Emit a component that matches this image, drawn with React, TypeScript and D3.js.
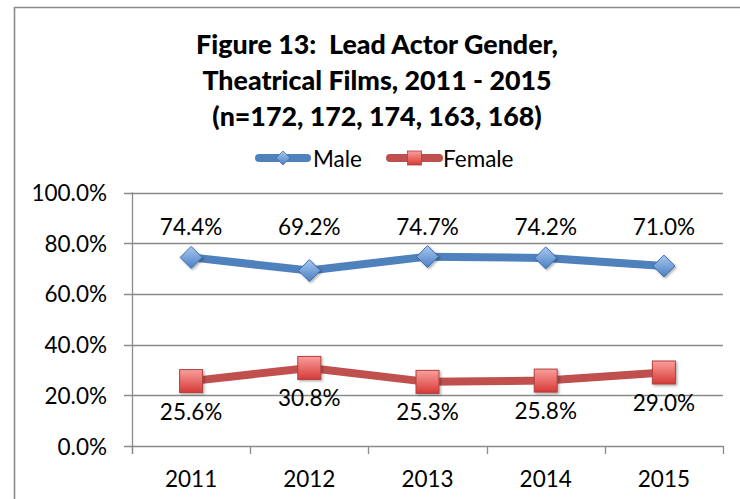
import React, { useEffect, useRef } from 'react';
import * as d3 from 'd3';

const years = ['2011', '2012', '2013', '2014', '2015'];
const male = [74.4, 69.2, 74.7, 74.2, 71.0];
const female = [25.6, 30.8, 25.3, 25.8, 29.0];
const yTicks = [0, 20, 40, 60, 80, 100];
const titleLines = [
  'Figure 13:  Lead Actor Gender,',
  'Theatrical Films, 2011 - 2015',
  '(n=172, 172, 174, 163, 168)',
];
const seriesNames = ['Male', 'Female'];

const W = 740;
const H = 499;
const FONT = 'Lato, "Open Sans", sans-serif';
const FS = 22.5;
const BLUE = '#4f81bd';
const RED = '#c0504d';
const GRID = '#8a8a8a';

function App() {
  const svgRef = useRef<SVGSVGElement>(null);

  useEffect(() => {
    const svg = d3.select(svgRef.current);
    svg.selectAll('*').remove();

    const x = d3.scaleBand<string>().domain(years).range([132, 723]);
    const y = d3.scaleLinear().domain([0, 100]).range([446, 192.5]);
    const cx = (d: string) => (x(d) as number) + x.bandwidth() / 2;

    // gradients + shadow
    const defs = svg.append('defs');
    const gBlue = defs.append('linearGradient').attr('id', 'gBlue')
      .attr('x1', 0).attr('y1', 0).attr('x2', 0).attr('y2', 1);
    gBlue.append('stop').attr('offset', '0%').attr('stop-color', '#a9c8ef');
    gBlue.append('stop').attr('offset', '100%').attr('stop-color', '#4a7fc4');
    const gRed = defs.append('linearGradient').attr('id', 'gRed')
      .attr('x1', 0).attr('y1', 0).attr('x2', 0).attr('y2', 1);
    gRed.append('stop').attr('offset', '0%').attr('stop-color', '#fa9f9c');
    gRed.append('stop').attr('offset', '100%').attr('stop-color', '#d63a37');
    defs.append('filter').attr('id', 'shadow')
      .attr('x', '-30%').attr('y', '-30%').attr('width', '170%').attr('height', '170%')
      .append('feDropShadow')
      .attr('dx', 1.5).attr('dy', 1.5).attr('stdDeviation', 1.2)
      .attr('flood-color', '#000').attr('flood-opacity', 0.3);

    // outer frame (cut off at right / bottom)
    svg.append('path')
      .attr('d', `M14.5,${H + 2}V7.5H${W + 2}`)
      .attr('fill', 'none').attr('stroke', '#8c8c8c').attr('stroke-width', 1.6);

    // title
    const title = svg.append('text')
      .attr('x', 377).attr('text-anchor', 'middle')
      .attr('font-family', FONT).attr('font-weight', 900)
      .attr('font-size', 26.8).attr('fill', '#000')
      .style('white-space', 'pre');
    titleLines.forEach((t, i) => {
      title.append('tspan').attr('x', 377).attr('y', 54 + i * 36).text(t);
    });

    // legend
    const legendY = 158;
    const legend = svg.append('g').attr('font-family', FONT).attr('font-size', FS);
    const leg = [
      { name: seriesNames[0], x0: 259, x1: 307, color: BLUE, marker: 'diamond', tx: 313 },
      { name: seriesNames[1], x0: 390, x1: 439, color: RED, marker: 'square', tx: 443 },
    ];
    leg.forEach((l) => {
      legend.append('line')
        .attr('x1', l.x0).attr('x2', l.x1).attr('y1', legendY).attr('y2', legendY)
        .attr('stroke', l.color).attr('stroke-width', 8).attr('stroke-linecap', 'round');
      const mx = (l.x0 + l.x1) / 2;
      if (l.marker === 'diamond') {
        legend.append('path')
          .attr('d', `M${mx},${legendY - 7}L${mx + 7},${legendY}L${mx},${legendY + 7}L${mx - 7},${legendY}Z`)
          .attr('fill', 'url(#gBlue)').attr('stroke', '#3d6db0').attr('stroke-width', 0.8);
      } else {
        legend.append('rect')
          .attr('x', mx - 7).attr('y', legendY - 7).attr('width', 14).attr('height', 14)
          .attr('fill', 'url(#gRed)').attr('stroke', '#b0403d').attr('stroke-width', 0.8);
      }
      legend.append('text')
        .attr('x', l.tx).attr('y', legendY).attr('dominant-baseline', 'central')
        .attr('fill', '#000').text(l.name);
    });

    // gridlines
    svg.append('g').selectAll('line').data(yTicks).join('line')
      .attr('x1', 124).attr('x2', 723)
      .attr('y1', (d) => Math.round(y(d)) + 0.5).attr('y2', (d) => Math.round(y(d)) + 0.5)
      .attr('stroke', GRID).attr('stroke-width', 1.3);

    // y axis line
    svg.append('line')
      .attr('x1', 132.5).attr('x2', 132.5).attr('y1', y(100)).attr('y2', 454)
      .attr('stroke', GRID).attr('stroke-width', 1.3);

    // x ticks at band edges
    const edges = years.map((d) => x(d) as number).concat([x.range()[1]]);
    svg.append('g').selectAll('line').data(edges).join('line')
      .attr('x1', (d) => Math.round(d) + 0.5).attr('x2', (d) => Math.round(d) + 0.5)
      .attr('y1', y(0)).attr('y2', 454)
      .attr('stroke', GRID).attr('stroke-width', 1.3);

    // y tick labels
    svg.append('g').selectAll('text').data(yTicks).join('text')
      .attr('x', 107).attr('y', (d) => y(d))
      .attr('text-anchor', 'end').attr('dominant-baseline', 'central')
      .attr('font-family', FONT).attr('font-size', FS).attr('fill', '#000')
      .text((d) => d3.format('.1f')(d) + '%');

    // x tick labels
    svg.append('g').selectAll('text').data(years).join('text')
      .attr('x', cx).attr('y', 478)
      .attr('text-anchor', 'middle').attr('dominant-baseline', 'central')
      .attr('font-family', FONT).attr('font-size', FS).attr('fill', '#000')
      .text((d) => d);

    const line = d3.line<number>()
      .x((_, i) => cx(years[i]))
      .y((d) => y(d));

    // series lines
    svg.append('path').datum(male).attr('d', line)
      .attr('fill', 'none').attr('stroke', BLUE).attr('stroke-width', 8)
      .attr('stroke-linejoin', 'round').attr('stroke-linecap', 'round');
    svg.append('path').datum(female).attr('d', line)
      .attr('fill', 'none').attr('stroke', RED).attr('stroke-width', 8)
      .attr('stroke-linejoin', 'round').attr('stroke-linecap', 'round');

    // markers
    const ds = 11;
    svg.append('g').selectAll('path').data(male).join('path')
      .attr('d', (d, i) => {
        const px = cx(years[i]);
        const py = y(d);
        return `M${px},${py - ds}L${px + ds},${py}L${px},${py + ds}L${px - ds},${py}Z`;
      })
      .attr('fill', 'url(#gBlue)').attr('stroke', '#3d6db0').attr('stroke-width', 1)
      .attr('filter', 'url(#shadow)');
    const sq = 23;
    svg.append('g').selectAll('rect').data(female).join('rect')
      .attr('x', (_, i) => cx(years[i]) - sq / 2).attr('y', (d) => y(d) - sq / 2)
      .attr('width', sq).attr('height', sq)
      .attr('fill', 'url(#gRed)').attr('stroke', '#b0403d').attr('stroke-width', 1)
      .attr('filter', 'url(#shadow)');

    // data labels
    const maleLabelY = y(d3.max(male) as number) - 30;
    svg.append('g').selectAll('text').data(male).join('text')
      .attr('x', (_, i) => cx(years[i])).attr('y', maleLabelY)
      .attr('text-anchor', 'middle').attr('dominant-baseline', 'central')
      .attr('font-family', FONT).attr('font-size', FS).attr('fill', '#000')
      .text((d) => d3.format('.1f')(d) + '%');
    svg.append('g').selectAll('text').data(female).join('text')
      .attr('x', (_, i) => cx(years[i])).attr('y', (d) => y(d) + 30)
      .attr('text-anchor', 'middle').attr('dominant-baseline', 'central')
      .attr('font-family', FONT).attr('font-size', FS).attr('fill', '#000')
      .text((d) => d3.format('.1f')(d) + '%');
  }, []);

  return (
    <svg
      ref={svgRef}
      width={W}
      height={H}
      style={{ position: 'absolute', left: 0, top: 0, background: '#fff' }}
    />
  );
}

export default App;
